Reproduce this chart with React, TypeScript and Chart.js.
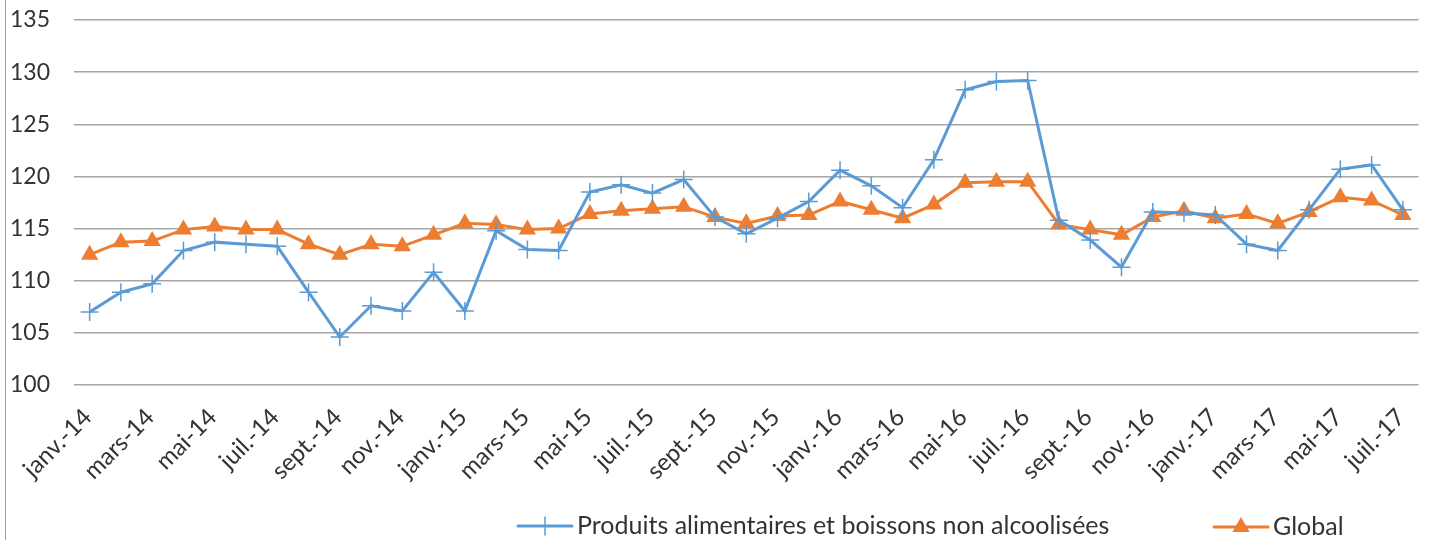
import { useEffect, useRef } from 'react';
import { Chart, registerables } from 'chart.js';

Chart.register(...registerables);

const categories = [
  'janv.-14', 'févr.-14', 'mars-14', 'avr.-14', 'mai-14', 'juin-14', 'juil.-14', 'août-14', 'sept.-14', 'oct.-14', 'nov.-14', 'déc.-14',
  'janv.-15', 'févr.-15', 'mars-15', 'avr.-15', 'mai-15', 'juin-15', 'juil.-15', 'août-15', 'sept.-15', 'oct.-15', 'nov.-15', 'déc.-15',
  'janv.-16', 'févr.-16', 'mars-16', 'avr.-16', 'mai-16', 'juin-16', 'juil.-16', 'août-16', 'sept.-16', 'oct.-16', 'nov.-16', 'déc.-16',
  'janv.-17', 'févr.-17', 'mars-17', 'avr.-17', 'mai-17', 'juin-17', 'juil.-17',
];

const foodValues = [
  107.0, 108.9, 109.7, 112.9, 113.7, 113.5, 113.3, 108.9, 104.6, 107.6, 107.1, 110.8,
  107.1, 114.8, 113.0, 112.9, 118.5, 119.2, 118.4, 119.7, 116.1, 114.5, 116.0, 117.6,
  120.6, 119.1, 117.0, 121.6, 128.3, 129.1, 129.2, 115.8, 113.9, 111.3, 116.6, 116.5,
  116.3, 113.5, 112.9, 116.8, 120.7, 121.1, 116.8,
];

const globalValues = [
  112.5, 113.7, 113.8, 114.9, 115.2, 114.9, 114.9, 113.5, 112.5, 113.5, 113.3, 114.4,
  115.5, 115.4, 114.9, 115.0, 116.4, 116.7, 116.9, 117.1, 116.1, 115.5, 116.2, 116.3,
  117.6, 116.8, 116.0, 117.3, 119.4, 119.5, 119.5, 115.4, 114.9, 114.4, 116.1, 116.7,
  116.0, 116.4, 115.5, 116.6, 118.0, 117.7, 116.3,
];

const seriesNames = ['Produits alimentaires et boissons non alcoolisées', 'Global'];
const yMin = 100;
const yMax = 135;
const yStep = 5;

const BLUE = '#5B9BD5';
const ORANGE = '#ED7D31';
const FONT = 'Lato, "Liberation Sans", sans-serif';
const TEXT = '#333333';

const decorPlugin = {
  id: 'decor',
  afterDraw(chart: any) {
    const ctx = chart.ctx as CanvasRenderingContext2D;
    ctx.save();
    // left frame line
    ctx.strokeStyle = '#a0a0a0';
    ctx.lineWidth = 1;
    ctx.beginPath();
    ctx.moveTo(5.5, 0);
    ctx.lineTo(5.5, chart.height);
    ctx.stroke();

    // custom legend: line + marker + text
    const items = [
      { name: seriesNames[0], color: BLUE, style: 'cross', x1: 518, y: 526 },
      { name: seriesNames[1], color: ORANGE, style: 'triangle', x1: 1214, y: 527 },
    ];
    items.forEach((it) => {
      const x2 = it.x1 + 54;
      const cx = (it.x1 + x2) / 2;
      ctx.strokeStyle = it.color;
      ctx.lineWidth = 3;
      ctx.lineCap = 'round';
      ctx.beginPath();
      ctx.moveTo(it.x1, it.y);
      ctx.lineTo(x2, it.y);
      ctx.stroke();
      if (it.style === 'cross') {
        ctx.lineWidth = 1.5;
        ctx.beginPath();
        ctx.moveTo(cx, it.y - 9);
        ctx.lineTo(cx, it.y + 9);
        ctx.stroke();
      } else {
        const r = 10;
        ctx.fillStyle = it.color;
        ctx.beginPath();
        ctx.moveTo(cx, it.y - r);
        ctx.lineTo(cx + r * Math.sin(Math.PI / 3), it.y + r / 2);
        ctx.lineTo(cx - r * Math.sin(Math.PI / 3), it.y + r / 2);
        ctx.closePath();
        ctx.fill();
      }
      ctx.fillStyle = TEXT;
      ctx.font = `25px ${FONT}`;
      ctx.textBaseline = 'middle';
      ctx.textAlign = 'left';
      ctx.fillText(it.name, x2 + 5, it.y);
    });
    ctx.restore();
  },
};

export default function App() {
  const ref = useRef<HTMLCanvasElement | null>(null);

  useEffect(() => {
    if (!ref.current) return;
    const chart = new Chart(ref.current, {
      type: 'line',
      data: {
        labels: categories,
        datasets: [
          {
            label: seriesNames[0],
            data: foodValues,
            borderColor: BLUE,
            backgroundColor: BLUE,
            borderWidth: 3,
            pointStyle: 'cross',
            pointRadius: 9,
            pointBorderWidth: 1.5,
            pointBorderColor: BLUE,
            tension: 0,
          },
          {
            label: seriesNames[1],
            data: globalValues,
            borderColor: ORANGE,
            backgroundColor: ORANGE,
            borderWidth: 3,
            pointStyle: 'triangle',
            pointRadius: 10,
            pointBorderWidth: 0,
            pointBackgroundColor: ORANGE,
            tension: 0,
          },
        ],
      },
      options: {
        responsive: false,
        animation: false,
        layout: { padding: { top: 20, right: 10, left: 10, bottom: 0 } },
        plugins: {
          legend: { display: false },
          tooltip: { enabled: false },
        },
        scales: {
          x: {
            offset: true,
            grid: { display: false },
            border: { display: false },
            ticks: {
              autoSkip: false,
              minRotation: 45,
              maxRotation: 45,
              labelOffset: -2,
              padding: 10,
              color: TEXT,
              font: { family: FONT, size: 24 },
              callback: (_v: any, i: number) => (i % 2 === 0 ? categories[i] : ''),
            },
            afterFit: (s: any) => {
              s.height = 155;
              s.paddingLeft = 0;
              s.paddingRight = 0;
            },
          },
          y: {
            min: yMin,
            max: yMax,
            ticks: {
              stepSize: yStep,
              padding: 3,
              crossAlign: 'far',
              color: TEXT,
              font: { family: FONT, size: 23 },
            },
            grid: { color: '#a6a6a6', lineWidth: 1.5, drawTicks: false },
            border: { display: false },
            afterFit: (s: any) => {
              s.width = 64;
            },
          },
        },
      },
      plugins: [decorPlugin],
    });
    return () => chart.destroy();
  }, []);

  return (
    <div style={{ position: 'fixed', left: 0, top: 0, width: 1429, height: 540, background: '#fff' }}>
      <canvas ref={ref} width={1429} height={540} />
    </div>
  );
}
